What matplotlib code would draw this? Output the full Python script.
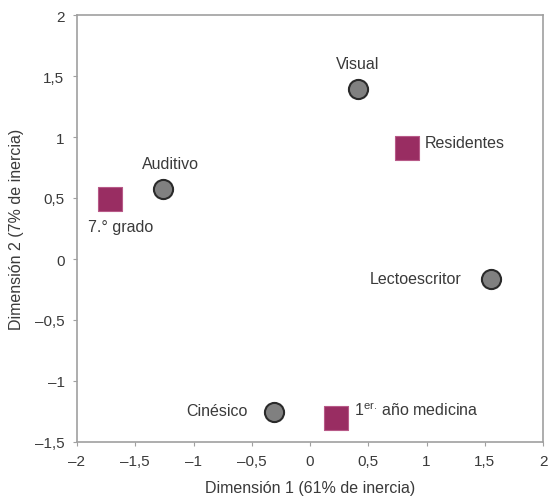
import matplotlib.pyplot as plt
from matplotlib.ticker import FixedLocator, FixedFormatter

plt.rcParams['font.family'] = ['Liberation Sans', 'DejaVu Sans']

# Profiles (circles) and groups (squares) on the first two dimensions
profile_names = ['Visual', 'Auditivo', 'Lectoescritor', 'Cinésico']
profile_x = [0.41, -1.26, 1.55, -0.31]
profile_y = [1.39, 0.57, -0.16, -1.25]

group_names = ['Residentes', '7.° grado', '1$^{\\mathregular{er.}}\\,$año medicina']
group_x = [0.83, -1.72, 0.22]
group_y = [0.91, 0.49, -1.30]

x_ticks = [-2, -1.5, -1, -0.5, 0, 0.5, 1, 1.5, 2]
y_ticks = [-1.5, -1, -0.5, 0, 0.5, 1, 1.5, 2]


def fmt(v):
    s = ('%g' % abs(v)).replace('.', ',')
    return ('\u2013' + s) if v < 0 else s


text_col = '#3a3a3a'
axis_col = '#a0a0a0'

fig = plt.figure(figsize=(5.49, 5.02), dpi=100)
ax = fig.add_axes([77 / 549, 1 - 443 / 502, 466 / 549, 427 / 502])

ax.scatter(profile_x, profile_y, s=190, marker='o', c='#808080',
           edgecolors='#2a2a2a', linewidths=1.5, zorder=3)
ax.scatter(group_x, group_y, s=300, marker='s', c='#992d62',
           edgecolors='#b85a88', linewidths=0.8, zorder=3)

# label offsets in points: (dx, dy, ha, va)
profile_offsets = [(0, 13, 'center', 'bottom'),
                   (5, 13, 'center', 'bottom'),
                   (-21, 0, 'right', 'center'),
                   (-19, 1, 'right', 'center')]
group_offsets = [(13, 4, 'left', 'center'),
                 (8, -14, 'center', 'top'),
                 (13, 6, 'left', 'center')]

for name, x, y, (dx, dy, ha, va) in zip(profile_names, profile_x, profile_y, profile_offsets):
    ax.annotate(name, (x, y), xytext=(dx, dy), textcoords='offset points',
                ha=ha, va=va, fontsize=11.5, color=text_col)
for name, x, y, (dx, dy, ha, va) in zip(group_names, group_x, group_y, group_offsets):
    ax.annotate(name, (x, y), xytext=(dx, dy), textcoords='offset points',
                ha=ha, va=va, fontsize=11.5, color=text_col)

ax.set_xlim(-2, 2)
ax.set_ylim(-1.5, 2)
ax.xaxis.set_major_locator(FixedLocator(x_ticks))
ax.xaxis.set_major_formatter(FixedFormatter([fmt(v) for v in x_ticks]))
ax.yaxis.set_major_locator(FixedLocator(y_ticks))
ax.yaxis.set_major_formatter(FixedFormatter([fmt(v) for v in y_ticks]))

for sp in ax.spines.values():
    sp.set_color(axis_col)
    sp.set_linewidth(1.2)
ax.tick_params(direction='out', length=3, width=0.8, color=axis_col,
               labelsize=11, labelcolor=text_col, pad=6)

ax.set_xlabel('Dimensión 1 (61% de inercia)', fontsize=11.5, color=text_col, labelpad=8)
ax.set_ylabel('Dimensión 2 (7% de inercia)', fontsize=11.5, color=text_col, labelpad=8)

fig.savefig('out.png', dpi=100)
